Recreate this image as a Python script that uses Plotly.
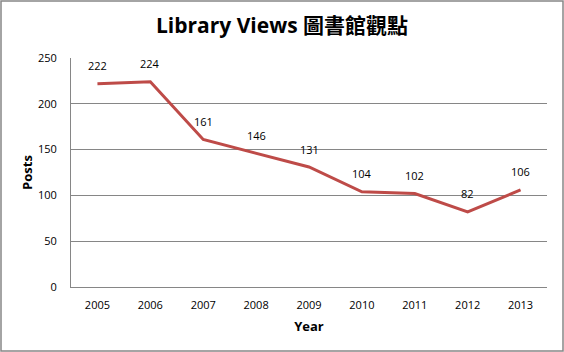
import plotly.graph_objects as go

years = ["2005", "2006", "2007", "2008", "2009", "2010", "2011", "2012", "2013"]
posts = [222, 224, 161, 146, 131, 104, 102, 82, 106]
y_ticks = [0, 50, 100, 150, 200, 250]

L, R, T, B = 71, 17, 58, 65
W, H = 564, 352
pw, ph = W - L - R, H - T - B

font_main = "Open Sans, Noto Sans CJK TC, sans-serif"

fig = go.Figure()
fig.add_trace(go.Scatter(
    x=years, y=posts, mode="lines",
    line=dict(color="#BE4B48", width=3),
    hoverinfo="skip",
))
for i, v in enumerate(posts):
    fig.add_annotation(x=i, y=v, xref="x", yref="y", text=str(v), showarrow=False,
                       yshift=18, yanchor="middle",
                       font=dict(family=font_main, size=11, color="#000000"))

fig.update_layout(
    width=W, height=H,
    margin=dict(l=L, r=R, t=T, b=B),
    paper_bgcolor="white", plot_bgcolor="white",
    showlegend=False,
    title=dict(text="<b>Library Views 圖書館觀點</b>", x=0.5, xanchor="center",
               y=1 - 26 / H, yanchor="middle",
               font=dict(family=font_main, size=21, color="#000000")),
    xaxis=dict(type="category", categoryorder="array", categoryarray=years,
               range=[-0.5, 8.5], showgrid=False,
               showline=True, linecolor="#868686", linewidth=1,
               ticks="", ticklabelstandoff=8,
               tickfont=dict(family=font_main, size=11, color="#000"),
               title=dict(text="<b>Year</b>", font=dict(family=font_main, size=13, color="#000"), standoff=10)),
    yaxis=dict(range=[0, 250], tickvals=y_ticks, showgrid=True, gridcolor="#868686",
               gridwidth=1, zeroline=False,
               showline=True, linecolor="#868686", linewidth=1, ticks="",
               ticklabelstandoff=11,
               tickfont=dict(family=font_main, size=11, color="#000"),
               title=dict(text="<b>Posts</b>", font=dict(family=font_main, size=13, color="#000"), standoff=2)),
    shapes=[dict(type="rect", xref="paper", yref="paper",
                 x0=(1 - L) / pw, x1=(W - 1 - L) / pw,
                 y0=(H - B - (H - 1)) / ph, y1=(H - B - 1) / ph,
                 line=dict(color="#868686", width=1.5))],
)

fig.write_html("out.html")
